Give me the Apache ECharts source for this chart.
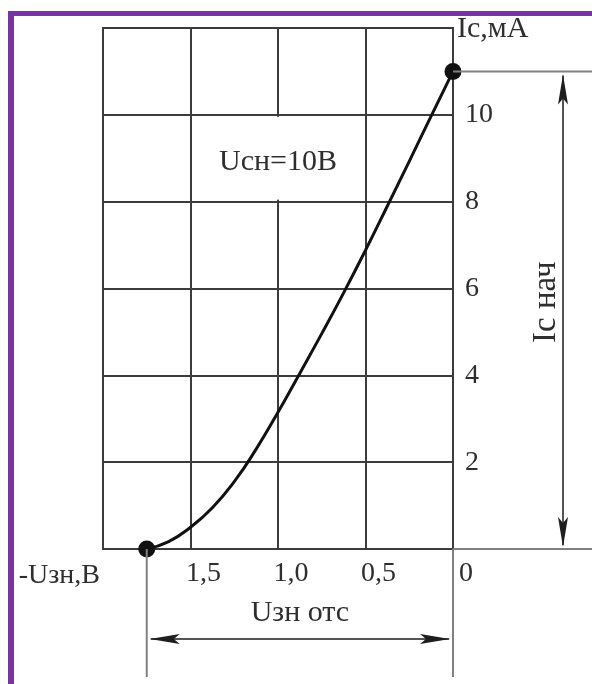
<!DOCTYPE html>
<html>
<head>
<meta charset="utf-8">
<script src="https://cdn.jsdelivr.net/npm/echarts@6/dist/echarts.min.js"></script>
<style>
  html, body { margin: 0; padding: 0; background: #fff; }
  #chart { width: 592px; height: 684px; }
  #frame {
    position: absolute; left: 8px; top: 11px; right: 0; bottom: 0;
    border-top: 5px solid #7634a6; border-left: 6px solid #7634a6;
    pointer-events: none;
  }
</style>
</head>
<body>
<div id="chart"></div>
<div id="frame"></div>
<script>
// -Uзн, В  vs  Iс, мА
const uzn = [1.75, 1.625, 1.5, 1.375, 1.25, 1.125, 1.0, 0.875, 0.75, 0.625, 0.5, 0.375, 0.25, 0.125, 0];
const ic = [0, 0.17, 0.5, 0.95, 1.55, 2.3, 3.15, 4.05, 4.96, 5.9, 6.88, 7.9, 8.93, 9.97, 11.0];
const xTickLabels = { 0: "0", 0.5: "0,5", 1: "1,0", 1.5: "1,5" };
const yTickLabels = [2, 4, 6, 8, 10];
const uOtc = 1.75;
const icNach = 11;

const FONT = "Liberation Serif";
const GRID_COLOR = "#3c3c3c";
const DIM_COLOR = "#808080";
const TEXT_COLOR = "#2e2e2e";

const chart = echarts.init(document.getElementById("chart"));

chart.setOption({
  animation: false,
  grid: {
    left: 103,
    right: 139,
    top: 28,
    bottom: 135,
    show: true,
    borderColor: GRID_COLOR,
    borderWidth: 2,
  },
  xAxis: {
    type: "value",
    inverse: true,
    min: 0,
    max: 2,
    interval: 0.5,
    axisLine: { show: true, lineStyle: { color: GRID_COLOR, width: 2 } },
    axisTick: { show: false },
    splitLine: { show: true, lineStyle: { color: GRID_COLOR, width: 2 } },
    axisLabel: {
      margin: 11,
      fontFamily: FONT,
      fontSize: 28,
      color: TEXT_COLOR,
      padding: [0, 0, 0, 26],
      formatter: (v) => xTickLabels[v] || "",
    },
  },
  yAxis: {
    type: "value",
    position: "right",
    min: 0,
    max: 12,
    interval: 2,
    axisLine: { show: true, lineStyle: { color: GRID_COLOR, width: 2 } },
    axisTick: { show: false },
    splitLine: { show: true, lineStyle: { color: GRID_COLOR, width: 2 } },
    axisLabel: {
      margin: 12,
      fontFamily: FONT,
      fontSize: 28,
      color: TEXT_COLOR,
      formatter: (v) => (yTickLabels.includes(v) ? String(v) : ""),
    },
  },
  series: [
    {
      type: "line",
      data: uzn.map((u, i) => [u, ic[i]]),
      smooth: 0.5,
      symbol: "none",
      lineStyle: { color: "#111", width: 3 },
      z: 5,
    },
    {
      type: "scatter",
      data: [[uOtc, 0], [0, icNach]],
      symbolSize: 17,
      itemStyle: { color: "#111", opacity: 1 },
      clip: false,
      z: 6,
    },
  ],
});

// annotations placed from data coordinates
const p = (x, y) => chart.convertToPixel({ gridIndex: 0 }, [x, y]);
const W = chart.getWidth();
const [x0, y0] = p(0, 0);
const [, yTop] = p(0, icNach);
const [xOtc] = p(uOtc, 0);
const [xMax, yMax] = p(2, 12);
const [x1, y10] = p(1, 10);
const [, y8] = p(1, 8);

const arrowX = x0 + 110;
const arrowY = y0 + 90;
const extBottom = y0 + 128;

function line(x1, y1, x2, y2, color, width) {
  return {
    type: "line",
    z: 50,
    shape: { x1, y1, x2, y2 },
    style: { stroke: color || DIM_COLOR, lineWidth: width || 2 },
  };
}

function head(tx, ty, dx, dy) {
  // tip at (tx, ty), pointing along (dx, dy)
  const len = 30, hw = 5;
  const bx = tx - dx * len, by = ty - dy * len;
  return {
    type: "polygon",
    z: 51,
    shape: {
      points: [
        [tx, ty],
        [bx - dy * hw, by + dx * hw],
        [bx + dx * 6, by + dy * 6],
        [bx + dy * hw, by - dx * hw],
      ],
    },
    style: { fill: "#1e1e1e" },
  };
}

function label(text, x, y, opts) {
  return {
    type: "text",
    z: 60,
    x,
    y,
    rotation: (opts && opts.rotation) || 0,
    style: Object.assign(
      {
        text,
        font: `${(opts && opts.size) || 29}px "${FONT}"`,
        fill: TEXT_COLOR,
        align: "center",
        verticalAlign: "middle",
      },
      opts && opts.style
    ),
  };
}

chart.setOption({
  graphic: [
    // gap behind Uсн label
    {
      type: "rect",
      z: 40,
      shape: { x: x1 - 4, y: y10 + 2, width: 8, height: y8 - y10 - 4 },
      style: { fill: "#fff" },
    },
    label("Uсн=10В", x1, y10 + (y8 - y10) * 0.54, { size: 30 }),

    // Iс нач dimension
    line(x0, yTop, W, yTop),
    line(x0, y0, W, y0),
    line(arrowX, yTop + 4, arrowX, y0 - 4, "#555", 2),
    head(arrowX, yTop + 3, 0, -1),
    head(arrowX, y0 - 2, 0, 1),
    label("Iс нач", arrowX - 17, (yTop + y0) / 2 - 8, {
      rotation: Math.PI / 2,
      size: 33,
    }),

    // Uзн отс dimension
    line(xOtc, y0, xOtc, extBottom),
    line(x0, y0, x0, extBottom),
    line(xOtc + 4, arrowY, x0 - 4, arrowY, "#555", 2),
    head(xOtc + 3, arrowY, -1, 0),
    head(x0 - 3, arrowY, 1, 0),
    label("Uзн отс", (xOtc + x0) / 2, arrowY - 26, { size: 30 }),

    // axis names
    label("-Uзн,В", xMax - 3, y0 + 27, { size: 28, style: { align: "right" } }),
    label("Iс,мА", x0 + 4, yMax + 1, { size: 30, style: { align: "left" } }),
  ],
});
</script>
</body>
</html>
